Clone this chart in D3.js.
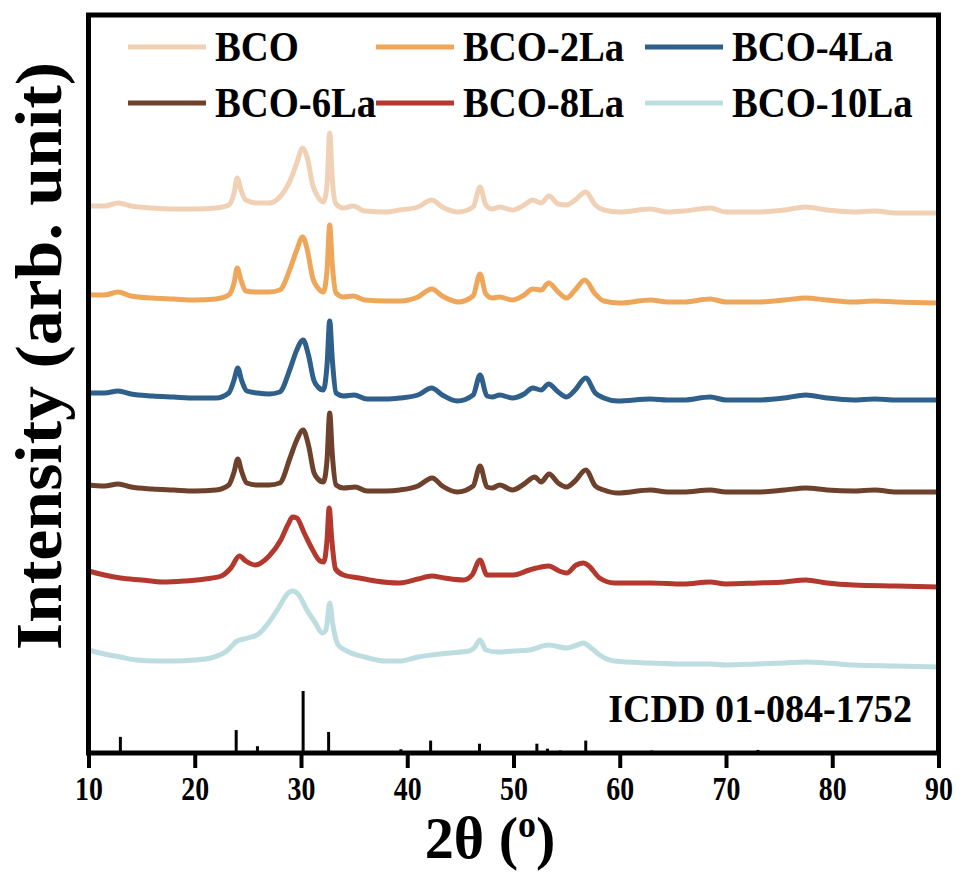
<!DOCTYPE html>
<html>
<head>
<meta charset="utf-8">
<script src="https://cdn.jsdelivr.net/npm/d3@7"></script>
<style>
  html, body { margin: 0; padding: 0; background: #fff; }
  svg { display: block; }
  text { font-family: "Liberation Serif", "Times New Roman", serif; font-weight: bold; fill: #000; }
</style>
</head>
<body>
<svg id="chart" width="960" height="874"></svg>
<script>
// XRD patterns, 2θ (deg) vs intensity (arb. unit), one array per sample
const seriesNames = ["BCO", "BCO-2La", "BCO-4La", "BCO-6La", "BCO-8La", "BCO-10La"];
const seriesColors = ["#f1d1b6", "#eea75a", "#2f5f8b", "#6e412d", "#b3392e", "#bddde1"];
// vertical stacking offset of each pattern (arb. unit)
const seriesOffsets = [520, 430, 335, 240, 148, 68];

const bco = [
  [10,27],[11.5,27],[12.8,30],[14,27],[16,25],[18,24],[20,24],[22,25],[23.2,28],[23.7,40],[24.0,55],
  [24.35,43],[24.8,33],[25.9,30],[27,30],[28,36],[29,53],[29.6,70],[30.15,85],[30.6,75],[31.1,48],
  [31.6,36],[32.1,31],[32.45,48],[32.7,100],[32.95,53],[33.3,29],[34,25],[34.9,27],[36,22],[38,21],
  [39.3,23],[41,26],[42.3,33],[43.3,26],[44.8,21],[46.2,26],[46.85,46],[47.4,28],[48,24],[48.7,26],
  [49.9,23],[51,28],[51.8,33],[52.6,30],[53.35,37],[54.2,29],[55,28],[55.8,33],[56.8,41],[57.7,28],
  [58.5,23],[60,21],[62.9,24],[64.5,21],[66,22],[68.5,25],[70,21],[73,21],[75.5,23],[77.5,26],
  [79.5,23],[82,21],[84,22],[86,20],[90,20]
];
const bco2La = [
  [10,28],[11.5,28],[12.8,31],[14,27],[16,25],[18,24],[20,23],[22,24],[23.2,28],[23.7,40],[24.0,55],
  [24.35,43],[24.8,32],[25.9,31],[27,31],[28,33],[29,55],[29.6,73],[30.15,86],[30.6,73],[31.1,45],
  [31.6,35],[32.1,31],[32.45,53],[32.7,98],[32.95,58],[33.3,30],[34,26],[34.9,27],[36,23],[38,22],
  [39.3,22],[41,26],[42.3,34],[43.3,27],[44.8,21],[46.2,27],[46.85,49],[47.4,29],[48,25],[48.7,26],
  [49.9,23],[51,28],[51.8,34],[52.6,33],[53.3,40],[54.2,31],[55,25],[55.8,33],[56.7,43],[57.7,29],
  [58.5,22],[60,20],[62.9,23],[64.5,21],[66,21],[68.5,24],[70,21],[73,21],[75.5,23],[77.5,25],
  [79.5,23],[82,21],[84,22],[86,21],[90,20]
];
const bco4La = [
  [10,25],[11.5,25],[12.8,27],[14,24],[16,22],[18,21],[20,20],[22,20],[23.2,25],[23.7,38],[24.05,50],
  [24.4,38],[24.9,27],[25.9,25],[27,24],[28,26],[29,50],[29.6,68],[30.2,78],[30.7,63],[31.2,38],
  [31.6,31],[32.1,28],[32.45,53],[32.7,97],[32.95,58],[33.3,25],[34,22],[35,23],[36.2,19],[38,19],
  [39.3,20],[41,23],[42.3,30],[43.3,23],[44.7,17],[46.2,23],[46.85,43],[47.5,22],[48,21],[48.7,23],
  [49.9,20],[51,24],[51.8,30],[52.6,28],[53.3,34],[54.2,26],[55,21],[55.8,28],[56.8,40],[57.7,25],
  [58.5,20],[59.8,17],[62.9,19],[64.5,18],[66,18],[68.5,21],[70,18],[73,18],[75.5,20],[77.5,23],
  [79.5,20],[82,18],[84,19],[86,18],[90,18]
];
const bco6La = [
  [10,28],[11.5,27],[12.8,29],[14,26],[16,24],[18,23],[20,22],[22,23],[23.2,28],[23.7,41],[24.05,54],
  [24.4,42],[24.9,30],[25.9,28],[27,28],[28,30],[29,56],[29.6,73],[30.2,83],[30.7,68],[31.2,41],
  [31.6,34],[32.1,31],[32.45,53],[32.7,100],[32.95,58],[33.3,28],[34,25],[35.1,26],[36.2,22],[38,22],
  [39.3,23],[41,27],[42.35,35],[43.3,27],[44.7,21],[46.2,27],[46.85,47],[47.5,26],[48,25],[48.7,28],
  [49.9,23],[51,29],[52,36],[52.6,31],[53.35,39],[54.2,30],[55,26],[55.8,32],[56.8,43],[57.7,27],
  [58.5,23],[59.8,20],[62.9,23],[64.5,21],[66,21],[68.5,23],[70,21],[73,21],[75.5,23],[77.5,25],
  [79.5,23],[82,22],[84,23],[86,21],[90,21]
];
const bco8La = [
  [10,34],[11.5,30],[13,27],[15,25],[17,23],[19,24],[21,26],[22.5,29],[23.4,37],[24.2,49],[24.8,44],
  [25.7,40],[27,49],[28.1,65],[28.8,81],[29.2,88],[29.6,87],[30.3,72],[31,57],[31.8,44],[32.15,43],
  [32.45,65],[32.65,97],[32.9,65],[33.25,36],[34,30],[35.5,27],[37,24],[39.3,22],[41,26],[42.3,29],
  [43.5,27],[45.3,25],[46.1,30],[46.85,45],[47.5,30],[48.5,30],[50,30],[51.5,35],[52.6,38],[53.3,39],
  [54.3,34],[55,32],[55.9,40],[56.6,42],[57.1,39],[58.1,27],[59.5,22],[62.9,22],[66,21],[68.5,23],
  [70,21],[73,22],[75.5,23],[77.5,25],[79.5,22],[82,20],[86,19],[90,18]
];
const bco10La = [
  [10,35],[11.5,31],[13,28],[14.5,25],[16.5,24],[18,24],[20,25],[21.5,27],[23,34],[24,44],[25,47],
  [26,51],[27,63],[28,79],[28.7,91],[29.2,94],[29.8,90],[30.5,76],[31.3,63],[32,52],[32.35,55],
  [32.7,82],[33,60],[33.5,40],[34.5,33],[36,28],[38,24],[39.3,24],[41,28],[42.3,30],[44,32],
  [45.8,34],[46.3,37],[46.85,45],[47.4,35],[48.5,33],[50,34],[51.5,35],[53.3,40],[55,37],[56,40],
  [56.6,42],[57.3,37],[58.1,30],[59.5,24],[62.9,22],[66,21],[68.5,21],[70,20],[73,21],[75.5,22],
  [77.5,23],[79.5,22],[82,20],[86,19],[90,18]
];
const seriesData = [bco, bco2La, bco4La, bco6La, bco8La, bco10La];

// reference pattern ICDD 01-084-1752: [2θ, relative intensity]
const refPeaks = [
  [13.0,26],[23.9,37],[25.9,11],[30.2,100],[32.6,34],[35.2,3],[39.4,6],[42.2,20],[46.8,15],
  [48.7,3],[52.2,15],[53.2,7],[54.4,4],[56.8,20],[63.0,4],[66.0,3],[68.5,2],[73.0,5],[76.8,2],
  [78.1,3],[84.0,2],[85.0,2]
];
const xTicks = [10, 20, 30, 40, 50, 60, 70, 80, 90];
const refLabel = "ICDD 01-084-1752";

const svg = d3.select("#chart");
const plotLeft = 88.5, plotRight = 938.5, plotTop = 15, plotBottom = 753;
const narrow = 0.9; // condensed bold serif lettering

const x = d3.scaleLinear().domain([10, 90]).range([plotLeft, plotRight]);
const y = d3.scaleLinear().domain([0, 738]).range([plotBottom, plotTop]);
const yRef = d3.scaleLinear().domain([0, 100]).range([plotBottom, plotBottom - 62]);

// patterns
const line = d3.line().curve(d3.curveMonotoneX);
seriesData.forEach((data, i) => {
  svg.append("path")
    .attr("d", line(data.map(d => [x(d[0]), y(d[1] + seriesOffsets[i])])))
    .attr("fill", "none")
    .attr("stroke", seriesColors[i])
    .attr("stroke-width", 5)
    .attr("stroke-linejoin", "round")
    .attr("stroke-linecap", "round");
});

// reference sticks
svg.append("g").selectAll("line").data(refPeaks).join("line")
  .attr("x1", d => x(d[0])).attr("x2", d => x(d[0]))
  .attr("y1", yRef(0)).attr("y2", d => yRef(d[1]))
  .attr("stroke", "#000").attr("stroke-width", 3);

svg.append("text")
  .attr("transform", "translate(912,722) scale(0.93,1)")
  .attr("text-anchor", "end")
  .attr("font-size", 41)
  .text(refLabel);

// x axis
const xAxis = d3.axisBottom(x).tickValues(xTicks).tickSize(15).tickPadding(8).tickFormat(d3.format("d"));
const gx = svg.append("g").attr("transform", `translate(0,${plotBottom})`).call(xAxis);
gx.select(".domain").remove();
gx.selectAll(".tick line").attr("stroke", "#000").attr("stroke-width", 4);
gx.selectAll(".tick text")
  .attr("font-size", 34)
  .attr("font-family", "Liberation Serif")
  .attr("font-weight", "bold")
  .attr("fill", "#000")
  .attr("transform", "scale(0.82,1)");

// frame
svg.append("rect")
  .attr("x", plotLeft).attr("y", plotTop)
  .attr("width", plotRight - plotLeft).attr("height", plotBottom - plotTop)
  .attr("fill", "none").attr("stroke", "#000").attr("stroke-width", 5);

// axis titles
const xt = svg.append("text")
  .attr("transform", "translate(490,858) scale(0.97,1)")
  .attr("text-anchor", "middle")
  .attr("font-size", 60);
xt.append("tspan").text("2θ (");
xt.append("tspan").attr("font-size", 37).attr("dy", -21).text("o");
xt.append("tspan").attr("dy", 21).text(")");

svg.append("text")
  .attr("transform", "translate(61,356) rotate(-90)")
  .attr("text-anchor", "middle")
  .attr("font-size", 66)
  .attr("textLength", 588)
  .attr("lengthAdjust", "spacingAndGlyphs")
  .text("Intensity (arb. unit)");

// legend
const legendPos = [[128, 47], [376, 47], [645, 47], [128, 103], [376, 103], [645, 103]];
seriesNames.forEach((name, i) => {
  const [lx, ly] = legendPos[i];
  svg.append("line")
    .attr("x1", lx).attr("x2", lx + 78).attr("y1", ly).attr("y2", ly)
    .attr("stroke", seriesColors[i]).attr("stroke-width", 5);
  svg.append("text")
    .attr("transform", `translate(${lx + 87},${ly + 14}) scale(${narrow},1)`)
    .attr("font-size", 43)
    .text(name);
});
</script>
</body>
</html>
